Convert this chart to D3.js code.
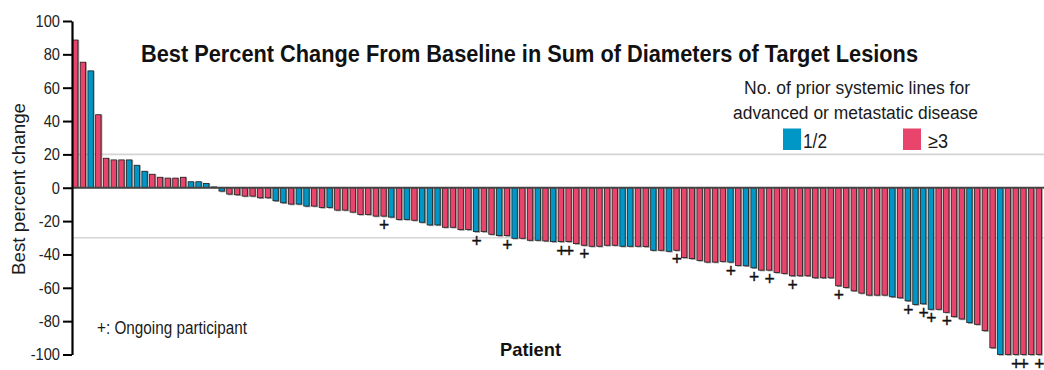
<!DOCTYPE html>
<html><head><meta charset="utf-8">
<script src="https://cdn.jsdelivr.net/npm/d3@7"></script>
<style>
html,body{margin:0;padding:0;background:#fff;}
svg{display:block;font-family:"Liberation Sans",Arial,Helvetica,sans-serif;}
</style></head><body>
<svg id="chart" width="1044" height="370"></svg>
<script>
// ---- data ----
const values = [
  88.6, 75.3, 70.1, 43.8, 17.7, 16.7, 16.7, 16.7, 13.5, 9.9,
  8.1, 6.3, 5.8, 5.8, 6.3, 3.6, 3.6, 2.6, 0.5, -2.0,
  -3.8, -4.2, -5.0, -5.0, -6.0, -6.0, -7.8, -9.0, -9.8, -9.8,
  -11.0, -11.0, -11.8, -11.8, -13.4, -13.4, -14.6, -16.0, -16.0, -17.0,
  -17.0, -17.6, -19.0, -19.0, -19.5, -20.7, -22.3, -22.3, -23.7, -23.7,
  -25.1, -25.1, -26.3, -26.3, -27.9, -28.7, -28.7, -30.3, -30.3, -31.5,
  -31.5, -31.9, -32.3, -32.3, -32.3, -33.5, -34.5, -35.1, -35.1, -34.5,
  -34.5, -35.1, -35.1, -35.1, -35.3, -37.5, -37.5, -38.1, -37.5, -41.9,
  -42.5, -43.6, -44.6, -44.6, -44.2, -44.6, -46.6, -46.8, -48.0, -49.4,
  -49.4, -50.8, -51.4, -52.8, -52.8, -52.8, -54.0, -54.0, -54.0, -58.8,
  -59.8, -61.8, -63.2, -64.4, -64.4, -64.4, -65.4, -66.0, -67.8, -70.0,
  -69.6, -72.9, -72.9, -74.7, -77.3, -78.7, -80.9, -81.9, -85.7, -96.0,
  -100, -100, -100, -100, -100, -100
];
const B = "1/2", R = "≥3";
const priorLines = [
  R, R, B, R, R, R, R, B, B, B,
  R, R, R, R, R, B, B, B, B, B,
  R, R, R, R, R, R, B, B, R, B,
  B, R, R, B, R, R, R, R, R, R,
  R, B, R, B, R, B, B, B, R, R,
  R, R, B, R, R, B, R, B, R, R,
  B, R, B, R, R, R, R, R, R, R,
  R, B, B, R, R, B, R, B, R, R,
  R, R, R, R, R, B, R, B, B, R,
  R, R, R, R, R, R, R, R, R, R,
  R, R, R, R, R, R, B, R, B, B,
  B, B, R, R, R, R, B, R, R, R,
  B, R, R, R, R, R
];
const ongoingPatients = [41, 53, 57, 64, 65, 67, 79, 86, 89, 91, 94, 100, 109, 111, 112, 114, 123, 124, 126];
const patients = values.map((v, i) => i + 1);
const yTicks = [100, 80, 60, 40, 20, 0, -20, -40, -60, -80, -100];
const refLines = [20, -30];
const groups = [B, R];
const groupColors = ["#0096C6", "#E9446C"];

// ---- drawing ----
const svg = d3.select("#chart");
const x = d3.scaleBand().domain(patients).range([72.5, 1041.5]).paddingInner(0.3).paddingOuter(0);
const y = d3.scaleLinear().domain([-100, 100]).range([354.5, 21]);
const color = d3.scaleOrdinal().domain(groups).range(groupColors);

// reference grid lines
svg.append("g").selectAll("line").data(refLines).join("line")
  .attr("x1", 72).attr("x2", 1044)
  .attr("y1", d => y(d)).attr("y2", d => y(d))
  .attr("stroke", "#d4d4d4").attr("stroke-width", 1.6);

const rows = patients.map((p, i) => ({p, v: values[i], g: priorLines[i], on: ongoingPatients.includes(p)}));

// shadow
svg.append("g").selectAll("rect").data(rows).join("rect")
  .attr("x", d => x(d.p) + 1.3)
  .attr("y", d => Math.min(y(0), y(d.v)) + (d.v < 0 ? 1.2 : 0))
  .attr("width", x.bandwidth())
  .attr("height", d => Math.abs(y(d.v) - y(0)))
  .attr("fill", "#7a7a7a").attr("opacity", 0.75);

svg.append("g").selectAll("rect").data(rows).join("rect")
  .attr("x", d => x(d.p))
  .attr("y", d => Math.min(y(0), y(d.v)))
  .attr("width", x.bandwidth())
  .attr("height", d => Math.abs(y(d.v) - y(0)))
  .attr("fill", d => color(d.g))
  .attr("stroke", "#1e1e1e").attr("stroke-width", 0.8);

// zero line
svg.append("line").attr("x1", 72).attr("x2", 1044)
  .attr("y1", y(0)).attr("y2", y(0))
  .attr("stroke", "#444").attr("stroke-width", 2);

// ongoing markers
svg.append("g").selectAll("text").data(rows.filter(d => d.on)).join("text")
  .attr("x", d => x(d.p) + x.bandwidth() / 2 + 0.5)
  .attr("y", d => y(d.v) + 9 + 6)
  .attr("text-anchor", "middle")
  .attr("font-size", 17.5).attr("fill", "#111")
  .attr("stroke", "#111").attr("stroke-width", 0.35)
  .text("+");

// y axis
const ax = svg.append("g").attr("transform", "translate(72,0)")
  .call(d3.axisLeft(y).tickValues(yTicks).tickFormat(d => String(d)).tickSize(9).tickPadding(3).tickSizeOuter(0));
ax.select(".domain").attr("stroke", "#000").attr("stroke-width", 2.2);
ax.selectAll(".tick line").attr("stroke", "#000").attr("stroke-width", 2);
ax.selectAll(".tick text").attr("font-size", 17).attr("fill", "#222")
  .attr("font-family", "'Liberation Sans',Arial,sans-serif")
  .each(function() { const w = this.getComputedTextLength(); d3.select(this).attr("textLength", w * 0.86).attr("lengthAdjust", "spacingAndGlyphs"); });

function txt(t, xx, yy, size, opts = {}) {
  const e = svg.append("text").attr("x", xx).attr("y", yy).attr("font-size", size)
    .attr("fill", opts.fill || "#1a1a1a").attr("text-anchor", opts.anchor || "start")
    .attr("font-weight", opts.bold ? "bold" : "normal").text(t);
  if (opts.len) e.attr("textLength", opts.len).attr("lengthAdjust", "spacingAndGlyphs");
  if (opts.transform) e.attr("transform", opts.transform);
  return e;
}

// title
txt("Best Percent Change From Baseline in Sum of Diameters of Target Lesions", 141, 61.5, 23.5, {bold: true, len: 777, fill: "#111"});
// y label
txt("Best percent change", 0, 0, 19, {anchor: "middle", len: 172, transform: "translate(25,189) rotate(-90)"});
// x label
txt("Patient", 500, 356, 18.5, {bold: true, len: 61, fill: "#111"});
// footnote
txt("+: Ongoing participant", 97, 334, 17.5, {len: 150});

// legend
txt("No. of prior systemic lines for", 744, 94, 18, {len: 226});
txt("advanced or metastatic disease", 733, 118.5, 18, {len: 245});
const legX = [783, 903];
svg.append("g").selectAll("rect").data(groups).join("rect")
  .attr("x", (d, i) => legX[i]).attr("y", 128.5).attr("width", 18).attr("height", 21.5)
  .attr("fill", d => color(d));
svg.append("g").selectAll("text").data(groups).join("text")
  .attr("x", (d, i) => legX[i] + (i === 0 ? 20 : 25)).attr("y", 147.5)
  .attr("font-size", 19.5).attr("fill", "#1a1a1a")
  .attr("textLength", (d, i) => i === 0 ? 24 : 20).attr("lengthAdjust", "spacingAndGlyphs")
  .text(d => d);
</script>
</body></html>
